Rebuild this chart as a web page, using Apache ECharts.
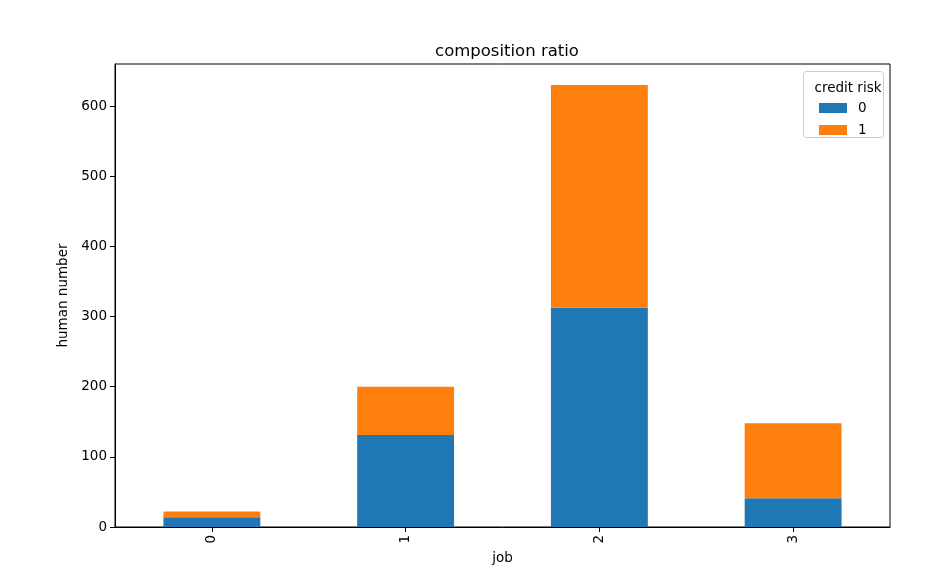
<!DOCTYPE html>
<html><head><meta charset="utf-8">
<script src="https://cdn.jsdelivr.net/npm/echarts@6/dist/echarts.min.js"></script>
<style>html,body{margin:0;padding:0;background:#fff}#c{width:940px;height:568px}</style>
</head><body><div id="c"></div>
<script>
const categories = ['0', '1', '2', '3'];
const risk0 = [14, 131, 313, 41];
const risk1 = [8, 69, 317, 107];
const yTicks = [0, 100, 200, 300, 400, 500, 600];

const F = 'DejaVu Sans';
const chart = echarts.init(document.getElementById('c'), null, {renderer: 'canvas'});
chart.setOption({
  animation: false,
  backgroundColor: '#fff',
  title: [
    {text: 'composition ratio', left: 502, top: 38, textAlign: 'center',
     textStyle: {fontFamily: F, fontSize: 16.5, fontWeight: 'normal', color: '#000'}},
    {text: 'credit risk', left: 843, top: 76, textAlign: 'center',
     textStyle: {fontFamily: F, fontSize: 13.5, fontWeight: 'normal', color: '#000'}}
  ],
  graphic: [{type: 'rect', shape: {x: 803.5, y: 71.5, width: 80, height: 66, r: 3},
    style: {fill: 'rgba(255,255,255,0.8)', stroke: '#cccccc', lineWidth: 1}, z: 5}],
  legend: {
    orient: 'vertical', left: 814, top: 96, itemWidth: 28, itemHeight: 10, itemGap: 8,
    icon: 'rect', z: 10,
    textStyle: {fontFamily: F, fontSize: 13.5, color: '#000', padding: [0, 0, 0, 6]},
    data: ['0', '1']
  },
  grid: {left: 115, right: 50, top: 64, bottom: 41, outerBoundsMode: 'none', containLabel: false,
    show: true, borderColor: '#000', borderWidth: 1, backgroundColor: 'transparent'},
  xAxis: {
    type: 'category', data: categories, name: 'job', nameLocation: 'middle', nameGap: 24,
    nameTextStyle: {fontFamily: F, fontSize: 13.5, color: '#000'},
    axisLine: {show: true, lineStyle: {color: '#000'}},
    axisTick: {show: true, alignWithLabel: true, length: 5, lineStyle: {color: '#000'}},
    axisLabel: {rotate: 90, fontFamily: F, fontSize: 13.5, color: '#000', margin: 8},
    splitLine: {show: false}
  },
  yAxis: {
    type: 'value', min: 0, max: 660, interval: 100, name: 'human number', nameLocation: 'middle', nameGap: 42,
    nameTextStyle: {fontFamily: F, fontSize: 13.5, color: '#000'},
    axisLine: {show: true, lineStyle: {color: '#000'}},
    axisTick: {show: true, length: 5, lineStyle: {color: '#000'}, customValues: yTicks},
    axisLabel: {fontFamily: F, fontSize: 13.5, color: '#000', margin: 8, customValues: yTicks},
    splitLine: {show: false}
  },
  series: [
    {name: '0', type: 'bar', stack: 'a', data: risk0, barWidth: '50%', itemStyle: {color: '#1f77b4'}},
    {name: '1', type: 'bar', stack: 'a', data: risk1, barWidth: '50%', itemStyle: {color: '#ff7f0e'}}
  ]
});
</script></body></html>
